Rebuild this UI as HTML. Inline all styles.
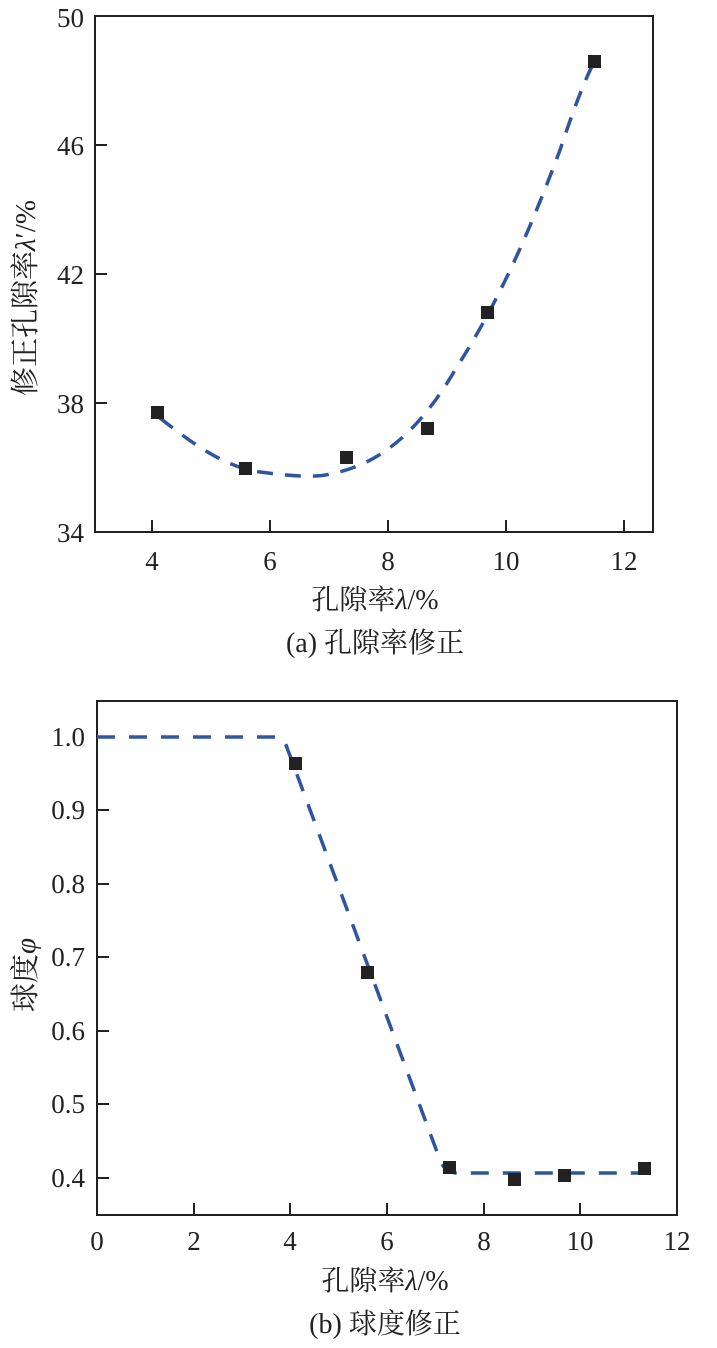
<!DOCTYPE html>
<html><head><meta charset="utf-8"><style>
html,body{margin:0;padding:0;background:#fff;}
svg text{font-family:"Liberation Serif","Noto Serif CJK SC",serif;fill:#222;}
</style></head><body>
<svg width="717" height="1343" viewBox="0 0 717 1343" xmlns="http://www.w3.org/2000/svg">
<!-- Chart (a) -->
<rect x="95" y="16" width="558" height="516" fill="none" stroke="#222" stroke-width="2"/>
<g stroke="#222" stroke-width="2">
<line x1="152" y1="532" x2="152" y2="520"/><line x1="270" y1="532" x2="270" y2="520"/>
<line x1="388" y1="532" x2="388" y2="520"/><line x1="506" y1="532" x2="506" y2="520"/>
<line x1="624" y1="532" x2="624" y2="520"/>
<line x1="95" y1="145" x2="107" y2="145"/><line x1="95" y1="274" x2="107" y2="274"/>
<line x1="95" y1="403" x2="107" y2="403"/>
</g>
<g font-size="27" text-anchor="end">
<text x="84" y="27">50</text><text x="84" y="155">46</text><text x="84" y="284">42</text>
<text x="84" y="413">38</text><text x="84" y="542">34</text>
</g>
<g font-size="27" text-anchor="middle">
<text x="152" y="570">4</text><text x="270" y="570">6</text><text x="388" y="570">8</text>
<text x="506" y="570">10</text><text x="624" y="570">12</text>
</g>
<text x="375" y="609" font-size="28" text-anchor="middle">孔隙率<tspan font-style="italic">λ</tspan>/%</text>
<text x="375" y="652" font-size="28" text-anchor="middle">(a) 孔隙率修正</text>
<text transform="translate(35,298) rotate(-90)" font-size="29" text-anchor="middle">修正孔隙率<tspan font-style="italic">λ</tspan>′/%</text>
<path d="M160,418 C200,450 230,468 260,472 C290,476 315,478 330,474 C380,465 420,430 455,370 C500,300 530,230 560,150 C575,105 585,80 594,62" fill="none" stroke="#2f55a0" stroke-width="3.5" stroke-dasharray="16,12"/>
<g fill="#222">
<rect x="151" y="406" width="13" height="13"/><rect x="239" y="462" width="13" height="13"/>
<rect x="340" y="451" width="13" height="13"/><rect x="421" y="422" width="13" height="13"/>
<rect x="481" y="306" width="13" height="13"/><rect x="588" y="55" width="13" height="13"/>
</g>
<!-- Chart (b) -->
<rect x="97" y="701" width="580" height="514" fill="none" stroke="#222" stroke-width="2"/>
<g stroke="#222" stroke-width="2">
<line x1="194" y1="1215" x2="194" y2="1203"/><line x1="290" y1="1215" x2="290" y2="1203"/>
<line x1="387" y1="1215" x2="387" y2="1203"/><line x1="484" y1="1215" x2="484" y2="1203"/>
<line x1="580" y1="1215" x2="580" y2="1203"/>
<line x1="97" y1="737" x2="109" y2="737"/>
<line x1="97" y1="810" x2="109" y2="810"/><line x1="97" y1="884" x2="109" y2="884"/>
<line x1="97" y1="957" x2="109" y2="957"/><line x1="97" y1="1031" x2="109" y2="1031"/>
<line x1="97" y1="1104" x2="109" y2="1104"/><line x1="97" y1="1178" x2="109" y2="1178"/>
</g>
<g font-size="27" text-anchor="end">
<text x="85" y="746">1.0</text><text x="85" y="819">0.9</text><text x="85" y="893">0.8</text>
<text x="85" y="966">0.7</text><text x="85" y="1040">0.6</text><text x="85" y="1113">0.5</text>
<text x="85" y="1187">0.4</text>
</g>
<g font-size="27" text-anchor="middle">
<text x="97" y="1250">0</text><text x="194" y="1250">2</text><text x="290" y="1250">4</text>
<text x="387" y="1250">6</text><text x="484" y="1250">8</text><text x="580" y="1250">10</text>
<text x="677" y="1250">12</text>
</g>
<text x="385" y="1290" font-size="28" text-anchor="middle">孔隙率<tspan font-style="italic">λ</tspan>/%</text>
<text x="385" y="1333" font-size="28" text-anchor="middle">(b) 球度修正</text>
<text transform="translate(35,975) rotate(-90)" font-size="29" text-anchor="middle">球度<tspan font-style="italic">φ</tspan></text>
<path d="M97,737 L278,737 Q282,737 286,745 L440,1160 Q445,1173 458,1173 L650,1173" fill="none" stroke="#2f55a0" stroke-width="3.5" stroke-dasharray="18,14"/>
<g fill="#222">
<rect x="289" y="757" width="13" height="13"/><rect x="361" y="966" width="13" height="13"/>
<rect x="443" y="1161" width="13" height="13"/><rect x="508" y="1173" width="13" height="13"/>
<rect x="558" y="1169" width="13" height="13"/><rect x="638" y="1162" width="13" height="13"/>
</g>
</svg>
</body></html>
